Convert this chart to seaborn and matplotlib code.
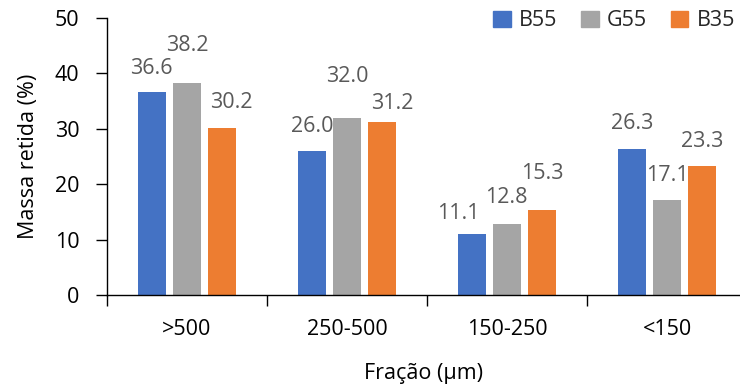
import matplotlib
matplotlib.use("Agg")
import matplotlib.pyplot as plt
import matplotlib.patches as mpatches
import seaborn as sns
import pandas as pd

# Retained mass per sieve fraction for each sample
fractions = [">500", "250-500", "150-250", "<150"]
samples = ["B55", "G55", "B35"]
b55 = [36.6, 26.0, 11.1, 26.3]
g55 = [38.2, 32.0, 12.8, 17.1]
b35 = [30.2, 31.2, 15.3, 23.3]
colors = ["#4472C4", "#A5A5A5", "#ED7D31"]

# Label placement tweaks (pixels, relative to the top centre of each bar)
label_offsets = {
    "B55": [(0, 24), (0, 24), (-14, 20), (0, 26)],
    "G55": [(0, 38), (0, 41), (-1, 27), (0, 25)],
    "B35": [(9, 25), (10, 19), (0, 37), (0, 24)],
}

values = {"B55": b55, "G55": g55, "B35": b35}
df = pd.DataFrame(
    [(f, s, values[s][i]) for s in samples for i, f in enumerate(fractions)],
    columns=["fracao", "amostra", "massa"],
)

sns.set_theme(style="white")
plt.rcParams["font.family"] = ["Open Sans", "DejaVu Sans"]

FS = 15.5
W, H = 740, 388
fig = plt.figure(figsize=(W / 100, H / 100), dpi=100)
ax = fig.add_axes([107 / W, (H - 295) / H, (W - 107) / W, 277 / H])

sns.barplot(
    data=df, x="fracao", y="massa", hue="amostra", order=fractions,
    hue_order=samples, palette=colors, width=0.66, gap=0.22,
    saturation=1, ax=ax, legend=False, linewidth=0,
)

ax.set_ylim(0, 50)
ax.set_yticks(range(0, 51, 10))
ax.set_xlim(-0.5, -0.5 + (W - 107) / 160)

for s, cont in zip(samples, ax.containers):
    for i, bar in enumerate(cont):
        dx, dy = label_offsets[s][i]
        ax.annotate(
            f"{values[s][i]:.1f}",
            xy=(bar.get_x() + bar.get_width() / 2, values[s][i]),
            xytext=(dx, dy), textcoords="offset pixels",
            ha="center", va="center", fontsize=FS, color="#595959",
        )

# Category separators as ticks on the x axis
ax.set_xticks([i - 0.5 for i in range(len(fractions))], minor=False)
ax.set_xticklabels([])
ax.set_xticks(range(len(fractions)), minor=True)
ax.set_xticklabels(fractions, minor=True)
ax.tick_params(axis="x", which="major", direction="out", length=8, width=1,
               color="black", bottom=True)
ax.tick_params(axis="x", which="minor", length=0, pad=17, labelsize=FS,
               labelcolor="black")
ax.tick_params(axis="y", direction="out", length=8, width=1, color="black",
               left=True, labelsize=FS, labelcolor="black", pad=12)

for side in ["top", "right"]:
    ax.spines[side].set_visible(False)
for side in ["left", "bottom"]:
    ax.spines[side].set_color("black")
    ax.spines[side].set_linewidth(1)

ax.set_xlabel("Fração (μm)", fontsize=FS, color="black", labelpad=17)
ax.set_ylabel("Massa retida (%)", fontsize=FS, color="black", labelpad=11)

handles = [mpatches.Patch(color=c, label=s) for s, c in zip(samples, colors)]
ax.legend(
    handles=handles, ncol=3, frameon=False, loc="center right",
    bbox_to_anchor=(746 / W, 1 - 21 / H), bbox_transform=fig.transFigure,
    fontsize=FS, handlelength=0.8, handleheight=0.8, handletextpad=0.4,
    columnspacing=1.1, borderpad=0,
)

fig.savefig("out.png", dpi=100)
